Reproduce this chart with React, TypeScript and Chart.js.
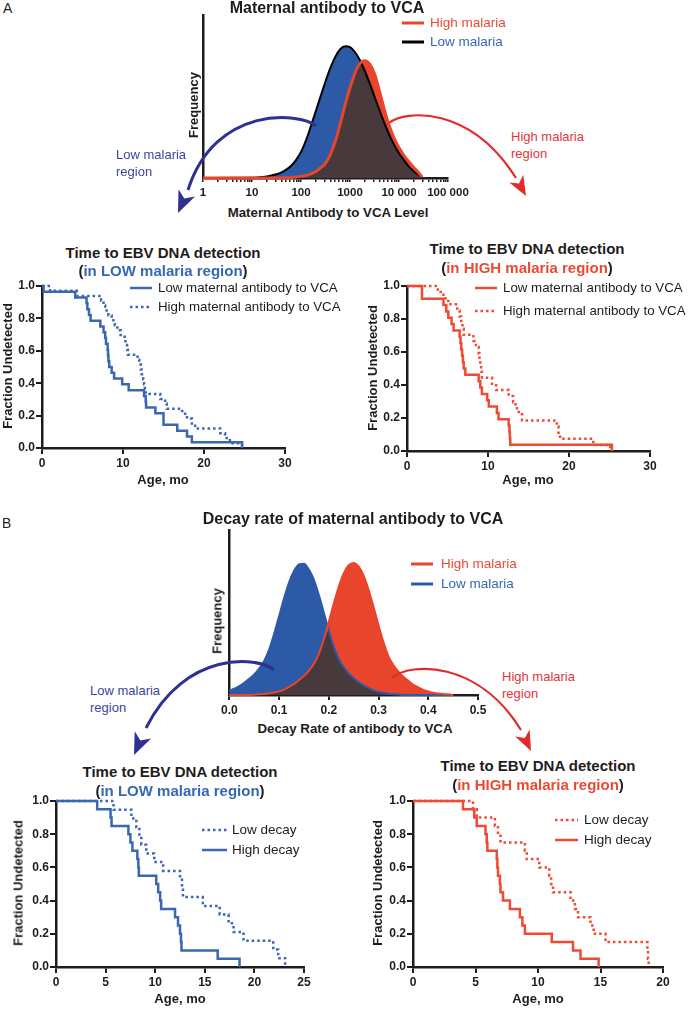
import React, { useEffect, useRef } from 'react';
import { Chart, registerables } from 'chart.js';

Chart.register(...registerables);

const FONT = '"Liberation Sans", Arial, Helvetica, sans-serif';
Chart.defaults.font.family = FONT;

// ---------------- Panel A: maternal antibody distribution ----------------
const antibodyLevels = [1, 10, 13, 16, 20, 25, 32, 40, 50, 63, 79, 100, 126, 158, 200, 251, 316, 398, 501, 631, 794, 1000, 1259, 1585, 1995, 2512, 3162, 3981, 5012, 6310, 7943, 10000, 12589, 15849, 19953, 25119, 29512];
const lowMalariaAntibodyFreq = [0, 0.1, 0.3, 0.6, 1.0, 1.6, 2.3, 3.4, 5.1, 7.5, 11, 16, 23, 31.5, 40.9, 50.1, 59.2, 67.5, 74.3, 79, 80.9, 80.3, 77.3, 72.4, 65.8, 58.2, 50, 41.7, 33.8, 26.6, 20.4, 15.2, 11, 7, 4.2, 1.8, 0.3];
const highMalariaAntibodyFreq = [0, 0, 0, 0, 0, 0, 0.05, 0.1, 0.2, 0.35, 0.6, 1.0, 1.5, 2.5, 4.0, 6.2, 9, 14.5, 22.5, 33, 44.8, 55.4, 64.3, 70.2, 72, 70, 64, 53.5, 42, 32, 24.5, 18.5, 13.8, 10, 6.5, 3.2, 0.5];
const antibodyDecades = [1, 10, 100, 1000, 10000, 100000];
const antibodyDecadeLabels = ['1', '10', '100', '1000', '10 000', '100 000'];
const minorMultipliers = [1, 2, 3, 4, 5, 6, 7, 8, 9];

// ---------------- Panel B: decay rate distribution ----------------
const decayRates = [0, 0.01, 0.02, 0.03, 0.04, 0.05, 0.06, 0.07, 0.08, 0.09, 0.1, 0.11, 0.12, 0.13, 0.14, 0.15, 0.16, 0.17, 0.18, 0.19, 0.2, 0.21, 0.22, 0.23, 0.24, 0.25, 0.26, 0.27, 0.28, 0.29, 0.3, 0.31, 0.32, 0.33, 0.34, 0.35, 0.36, 0.37, 0.38, 0.39, 0.4, 0.41, 0.42, 0.43, 0.44, 0.45];
const lowMalariaDecayFreq = [2.6, 3.8, 5.4, 7.4, 9.8, 12.5, 16, 20.6, 27.5, 37, 47.7, 58.6, 68.2, 75.2, 79.2, 79.6, 76, 69.8, 60.6, 49.9, 39, 29.3, 21.8, 16.8, 13.1, 10.2, 7.8, 5.8, 4.2, 2.8, 1.9, 1.3, 0.8, 0.5, 0.3, 0, 0, 0, 0, 0, 0, 0, 0, 0, 0, 0];
const highMalariaDecayFreq = [0, 0, 0, 0, 0, 0.2, 0.4, 0.6, 1.0, 1.5, 2.3, 3.3, 5.0, 6.6, 9.0, 11.5, 14.8, 19, 24.9, 33.8, 44.3, 55.4, 65.6, 73.7, 78.6, 80, 77.8, 72.4, 63.8, 53.3, 42.2, 31.9, 23.4, 18, 14.1, 11, 8.6, 6.2, 4.6, 3.1, 2.2, 1.4, 0.9, 0.6, 0.4, 0];
const decayTicks = [0, 0.1, 0.2, 0.3, 0.4, 0.5];

// ---------------- Kaplan-Meier curves ----------------
const fractionTicks = [0, 0.2, 0.4, 0.6, 0.8, 1.0];

// A, low malaria region
const aLowLowAbMonths = [0, 0.2, 4.1, 5.5, 5.6, 5.8, 6.0, 7.2, 7.6, 7.8, 7.9, 8.1, 8.15, 8.2, 8.3, 8.6, 8.9, 9.9, 10.7, 12.6, 12.8, 12.85, 14.0, 15.0, 16.7, 17.9, 18.5, 24.7];
const aLowLowAbFraction = [1, 0.964, 0.929, 0.893, 0.857, 0.821, 0.786, 0.75, 0.714, 0.679, 0.643, 0.607, 0.571, 0.536, 0.5, 0.464, 0.429, 0.393, 0.357, 0.321, 0.286, 0.25, 0.214, 0.143, 0.107, 0.071, 0.036, 0];
const aLowHighAbMonths = [0, 1.0, 4.3, 7.3, 7.6, 7.8, 8.2, 8.6, 9.0, 9.3, 9.7, 10.2, 10.3, 10.5, 10.6, 11.8, 12.0, 12.2, 12.3, 12.5, 12.6, 12.7, 12.8, 14.6, 15.2, 15.4, 17.3, 17.9, 18.5, 18.9, 22.0, 22.6, 23.2, 24.7];
const aLowHighAbFraction = [1, 0.970, 0.939, 0.909, 0.879, 0.848, 0.818, 0.788, 0.758, 0.727, 0.697, 0.667, 0.636, 0.606, 0.576, 0.545, 0.515, 0.485, 0.455, 0.424, 0.394, 0.364, 0.333, 0.303, 0.273, 0.242, 0.212, 0.182, 0.152, 0.121, 0.091, 0.061, 0.030, 0];
// A, high malaria region
const aHighLowAbMonths = [0, 1.85, 4.5, 4.85, 5.1, 5.5, 5.75, 6.5, 6.6, 6.7, 6.8, 6.9, 7.0, 7.2, 8.85, 9.05, 9.25, 9.9, 10.1, 11.1, 11.3, 12.55, 12.65, 12.7, 12.75, 25.3];
const aHighLowAbFraction = [1, 0.923, 0.885, 0.846, 0.808, 0.769, 0.731, 0.692, 0.654, 0.615, 0.577, 0.538, 0.5, 0.462, 0.423, 0.385, 0.346, 0.308, 0.269, 0.231, 0.192, 0.154, 0.115, 0.077, 0.038, 0];
const aHighHighAbMonths = [0, 3.8, 4.5, 5.1, 6.2, 6.5, 6.7, 6.85, 7.0, 8.2, 8.5, 8.85, 8.95, 9.05, 9.15, 9.25, 10.5, 11.0, 12.55, 13.1, 13.4, 13.8, 14.2, 18.5, 18.7, 18.9, 23.0, 25.1];
const aHighHighAbFraction = [1, 0.963, 0.926, 0.889, 0.852, 0.815, 0.778, 0.741, 0.704, 0.667, 0.630, 0.593, 0.556, 0.519, 0.481, 0.444, 0.407, 0.370, 0.333, 0.296, 0.259, 0.222, 0.185, 0.148, 0.111, 0.074, 0.037, 0];
// B, low malaria region
const bLowLowDecayMonths = [0, 5.8, 7.6, 8.1, 8.4, 8.6, 9.1, 9.9, 10.8, 12.5, 12.7, 12.8, 14.8, 16.5, 17.4, 17.9, 18.9, 21.9, 22.4, 23.1];
const bLowLowDecayFraction = [1, 0.947, 0.895, 0.842, 0.789, 0.737, 0.684, 0.632, 0.579, 0.526, 0.474, 0.421, 0.368, 0.316, 0.263, 0.211, 0.158, 0.105, 0.053, 0];
const bLowHighDecayMonths = [0, 4.15, 5.5, 5.6, 7.3, 7.5, 7.7, 8.2, 8.3, 8.35, 10.1, 10.3, 10.5, 10.6, 12.0, 12.3, 12.5, 12.6, 12.65, 16.3, 18.5];
const bLowHighDecayFraction = [1, 0.95, 0.9, 0.85, 0.8, 0.75, 0.7, 0.65, 0.6, 0.55, 0.5, 0.45, 0.4, 0.35, 0.3, 0.25, 0.2, 0.15, 0.1, 0.05, 0];
// B, high malaria region
const bHighLowDecayMonths = [0, 4.8, 5.1, 6.55, 6.8, 7.0, 8.95, 9.1, 10.1, 10.9, 11.05, 11.2, 12.6, 12.95, 13.2, 14.2, 14.45, 15.4, 18.75, 18.8, 18.85];
const bHighLowDecayFraction = [1, 0.95, 0.9, 0.85, 0.8, 0.75, 0.7, 0.65, 0.6, 0.55, 0.5, 0.45, 0.4, 0.35, 0.3, 0.25, 0.2, 0.15, 0.1, 0.05, 0];
const bHighHighDecayMonths = [0, 4.0, 4.9, 5.1, 5.8, 5.9, 5.95, 6.7, 6.75, 6.8, 6.95, 7.0, 7.2, 7.75, 8.55, 8.75, 8.95, 11.1, 12.8, 13.4, 14.85];
const bHighHighDecayFraction = [1, 0.95, 0.9, 0.85, 0.8, 0.75, 0.7, 0.65, 0.6, 0.55, 0.5, 0.45, 0.4, 0.35, 0.3, 0.25, 0.2, 0.15, 0.1, 0.05, 0];

// ---------------- colours ----------------
const INK = '#1f1c1d';
const BLUE_FILL = '#2c5aa7';
const RED_FILL = '#e9442c';
const DARK_FILL = '#483a3c';
const KM_BLUE = '#3b67b2';
const KM_RED = '#ee4b35';
const TEXT_BLUE = '#3768b2';
const TEXT_RED = '#ea4a34';
const ARROW_BLUE = '#2e3192';
const ARROW_RED = '#e42b2b';
const REGION_BLUE = '#3d459e';
const REGION_RED = '#e5343c';

const pts = (xs: number[], ys: number[]) => xs.map((x, i) => ({ x, y: ys[i] }));

type Rect = { x0: number; y0: number; x1: number; y1: number };

function ChartBox(props: { rect: Rect; yW: number; xH: number; padTop: number; padRight: number; build: () => any }) {
  const { rect, yW, xH, padTop, padRight, build } = props;
  const ref = useRef<HTMLCanvasElement>(null);
  const left = rect.x0 - yW;
  const top = rect.y0 - padTop;
  const width = rect.x1 - rect.x0 + yW + padRight;
  const height = rect.y1 - rect.y0 + padTop + xH;
  useEffect(() => {
    const cfg = build();
    cfg.options = {
      ...cfg.options,
      responsive: false,
      maintainAspectRatio: false,
      animation: false,
      devicePixelRatio: 1,
      events: [],
      layout: { padding: { top: padTop, right: padRight, left: 0, bottom: 0 } },
      plugins: { legend: { display: false }, tooltip: { enabled: false }, title: { display: false } },
    };
    cfg.options.scales.x.afterFit = (s: any) => { s.height = xH; };
    cfg.options.scales.y.afterFit = (s: any) => { s.width = yW; };
    const chart = new Chart(ref.current as HTMLCanvasElement, cfg);
    return () => chart.destroy();
  }, []);
  return (
    <canvas
      ref={ref}
      width={width}
      height={height}
      style={{ position: 'absolute', left, top, width, height }}
    />
  );
}

const axisBorder = { display: true, color: INK, width: 2.5 };

function kmConfig(series: { t: number[]; f: number[]; color: string; dotted: boolean }[], xMax: number, xStep: number) {
  return {
    type: 'line',
    data: {
      datasets: series.map((s) => ({
        data: pts(s.t, s.f),
        borderColor: s.color,
        borderWidth: 2.5,
        borderDash: s.dotted ? [2.5, 3] : [],
        stepped: 'before',
        pointRadius: 0,
        fill: false,
        clip: false,
      })),
    },
    options: {
      scales: {
        x: {
          type: 'linear',
          min: 0,
          max: xMax,
          ticks: { stepSize: xStep, font: { size: 12, weight: 'bold' }, color: INK, padding: 2, maxRotation: 0 },
          grid: { drawOnChartArea: false, drawTicks: true, tickLength: 6, color: INK, lineWidth: 2 },
          border: axisBorder,
        },
        y: {
          type: 'linear',
          min: 0,
          max: 1,
          afterBuildTicks: (scale: any) => { scale.ticks = fractionTicks.map((v) => ({ value: v })); },
          ticks: { font: { size: 12, weight: 'bold' }, color: INK, padding: 1, callback: (v: any) => Number(v).toFixed(1) },
          grid: { drawOnChartArea: false, drawTicks: true, tickLength: 6, color: INK, lineWidth: 2 },
          border: axisBorder,
        },
      },
    },
  };
}

const lineDs = (data: any[], color: string, width: number, order: number) => ({
  data, borderColor: color, borderWidth: width, fill: false, order, clip: false,
  pointRadius: 0, cubicInterpolationMode: 'monotone',
});
const fillDs = (data: any[], color: string, order: number) => ({
  data, borderColor: 'rgba(0,0,0,0)', borderWidth: 0, backgroundColor: color, fill: 'origin', order,
  pointRadius: 0, cubicInterpolationMode: 'monotone',
});

function antibodyConfig() {
  const overlap = lowMalariaAntibodyFreq.map((v, i) => Math.min(v, highMalariaAntibodyFreq[i]));
  const high = pts(antibodyLevels, highMalariaAntibodyFreq);
  const low = pts(antibodyLevels, lowMalariaAntibodyFreq);
  const tickValues: number[] = [];
  antibodyDecades.forEach((d, i) => {
    if (i === antibodyDecades.length - 1) tickValues.push(d);
    else minorMultipliers.forEach((m) => tickValues.push(d * m));
  });
  return {
    type: 'line',
    data: {
      datasets: [
        lineDs(high, RED_FILL, 3, 0),
        lineDs(low, '#000000', 2, 1),
        fillDs(pts(antibodyLevels, overlap), DARK_FILL, 2),
        fillDs(low, BLUE_FILL, 3),
        fillDs(high, RED_FILL, 4),
      ],
    },
    options: {
      scales: {
        x: {
          type: 'logarithmic',
          min: 1,
          max: 100000,
          afterBuildTicks: (scale: any) => {
            scale.ticks = tickValues.map((v) => ({ value: v, major: antibodyDecades.includes(v) }));
          },
          ticks: {
            autoSkip: false, maxRotation: 0, minRotation: 0, padding: 4, color: INK,
            font: { size: 11.5, weight: 'bold' },
            callback: (v: any) => {
              const i = antibodyDecades.findIndex((d) => Math.abs(d - Number(v)) < 1e-6);
              return i >= 0 ? antibodyDecadeLabels[i] : '';
            },
          },
          grid: { drawOnChartArea: false, drawTicks: true, tickLength: 4, color: INK, lineWidth: 1.5 },
          border: axisBorder,
        },
        y: {
          min: 0, max: 100,
          ticks: { display: false },
          grid: { display: false },
          border: axisBorder,
        },
      },
    },
  };
}

function decayConfig() {
  const overlap = lowMalariaDecayFreq.map((v, i) => Math.min(v, highMalariaDecayFreq[i]));
  const high = pts(decayRates, highMalariaDecayFreq);
  const low = pts(decayRates, lowMalariaDecayFreq);
  return {
    type: 'line',
    data: {
      datasets: [
        lineDs(high, RED_FILL, 2, 0),
        lineDs(low, BLUE_FILL, 2, 1),
        fillDs(pts(decayRates, overlap), DARK_FILL, 2),
        fillDs(high, RED_FILL, 3),
        fillDs(low, BLUE_FILL, 4),
      ],
    },
    options: {
      scales: {
        x: {
          type: 'linear', min: 0, max: 0.5,
          afterBuildTicks: (scale: any) => { scale.ticks = decayTicks.map((v) => ({ value: v })); },
          ticks: { padding: 3, color: INK, font: { size: 12, weight: 'bold' }, maxRotation: 0, callback: (v: any) => Number(v).toFixed(1) },
          grid: { drawOnChartArea: false, drawTicks: true, tickLength: 5, color: INK, lineWidth: 2 },
          border: axisBorder,
        },
        y: {
          min: 0, max: 100,
          ticks: { display: false },
          grid: { display: false },
          border: axisBorder,
        },
      },
    },
  };
}

function Txt(props: { x: number; y: number; size: number; bold?: boolean; color?: string; align?: 'left' | 'center'; rotate?: boolean; children: any }) {
  const { x, y, size, bold, color, align = 'center', rotate, children } = props;
  const tx = align === 'center' ? '-50%' : '0';
  return (
    <div
      style={{
        position: 'absolute', left: x, top: y,
        transform: `translate(${tx}, -50%)${rotate ? ' rotate(-90deg)' : ''}`,
        fontFamily: FONT, fontSize: size, fontWeight: bold ? 700 : 400,
        color: color || INK, lineHeight: 1, whiteSpace: 'nowrap',
      }}
    >
      {children}
    </div>
  );
}

function arrowHead(tx: number, ty: number, fx: number, fy: number, len: number, half: number) {
  const dx = tx - fx, dy = ty - fy;
  const L = Math.hypot(dx, dy);
  const ux = dx / L, uy = dy / L;
  const bx = tx - ux * len, by = ty - uy * len;
  const px = -uy, py = ux;
  const nx = tx - ux * len * 0.72, ny = ty - uy * len * 0.72;
  return `${tx},${ty} ${bx + px * half},${by + py * half} ${nx},${ny} ${bx - px * half},${by - py * half}`;
}

function KMTitle(props: { x: number; y1: number; y2: number; word: string; color: string }) {
  return (
    <>
      <Txt x={props.x} y={props.y1} size={15} bold>Time to EBV DNA detection</Txt>
      <Txt x={props.x} y={props.y2} size={15} bold>
        (<span style={{ color: props.color }}>in {props.word} malaria region</span>)
      </Txt>
    </>
  );
}

export default function App() {
  return (
    <div style={{ position: 'absolute', left: 0, top: 0, width: 688, height: 1009, background: '#fff', overflow: 'hidden' }}>
      {/* ---------- charts ---------- */}
      <ChartBox rect={{ x0: 203, y0: 15, x1: 448, y1: 178 }} yW={10} xH={24} padTop={4} padRight={26} build={antibodyConfig} />
      <ChartBox rect={{ x0: 228, y0: 530, x1: 478, y1: 695 }} yW={10} xH={24} padTop={4} padRight={18} build={decayConfig} />
      <ChartBox rect={{ x0: 42, y0: 286, x1: 285, y1: 448 }} yW={42} xH={24} padTop={10} padRight={20}
        build={() => kmConfig([
          { t: aLowLowAbMonths, f: aLowLowAbFraction, color: KM_BLUE, dotted: false },
          { t: aLowHighAbMonths, f: aLowHighAbFraction, color: KM_BLUE, dotted: true },
        ], 30, 10)} />
      <ChartBox rect={{ x0: 407, y0: 286, x1: 650, y1: 451 }} yW={40} xH={24} padTop={10} padRight={20}
        build={() => kmConfig([
          { t: aHighLowAbMonths, f: aHighLowAbFraction, color: KM_RED, dotted: false },
          { t: aHighHighAbMonths, f: aHighHighAbFraction, color: KM_RED, dotted: true },
        ], 30, 10)} />
      <ChartBox rect={{ x0: 56, y0: 801, x1: 304, y1: 967 }} yW={40} xH={24} padTop={10} padRight={20}
        build={() => kmConfig([
          { t: bLowLowDecayMonths, f: bLowLowDecayFraction, color: KM_BLUE, dotted: true },
          { t: bLowHighDecayMonths, f: bLowHighDecayFraction, color: KM_BLUE, dotted: false },
        ], 25, 5)} />
      <ChartBox rect={{ x0: 413, y0: 801, x1: 663, y1: 967 }} yW={40} xH={24} padTop={10} padRight={20}
        build={() => kmConfig([
          { t: bHighLowDecayMonths, f: bHighLowDecayFraction, color: KM_RED, dotted: true },
          { t: bHighHighDecayMonths, f: bHighHighDecayFraction, color: KM_RED, dotted: false },
        ], 20, 5)} />

      {/* ---------- texts: panel A ---------- */}
      <Txt x={3} y={8} size={14} align="left">A</Txt>
      <Txt x={327} y={8} size={16} bold>Maternal antibody to VCA</Txt>
      <Txt x={193} y={105} size={13} bold rotate>Frequency</Txt>
      <Txt x={328} y={213} size={13.3} bold>Maternal Antibody to VCA Level</Txt>
      <Txt x={430} y={23} size={13.5} align="left" color={TEXT_RED}>High malaria</Txt>
      <Txt x={430} y={42} size={13.5} align="left" color={TEXT_BLUE}>Low malaria</Txt>
      <Txt x={116} y={154} size={13} align="left" color={REGION_BLUE}>Low malaria</Txt>
      <Txt x={116} y={171} size={13} align="left" color={REGION_BLUE}>region</Txt>
      <Txt x={511} y={136} size={13} align="left" color={REGION_RED}>High malaria</Txt>
      <Txt x={511} y={153} size={13} align="left" color={REGION_RED}>region</Txt>

      <KMTitle x={163} y1={252} y2={270} word="LOW" color={TEXT_BLUE} />
      <KMTitle x={527} y1={248} y2={267} word="HIGH" color={TEXT_RED} />
      <Txt x={158} y={288} size={13.3} align="left">Low maternal antibody to VCA</Txt>
      <Txt x={158} y={307} size={13.3} align="left">High maternal antibody to VCA</Txt>
      <Txt x={503} y={288} size={13.3} align="left">Low maternal antibody to VCA</Txt>
      <Txt x={503} y={311} size={13.3} align="left">High maternal antibody to VCA</Txt>
      <Txt x={7} y={366} size={13} bold rotate>Fraction Undetected</Txt>
      <Txt x={372} y={368} size={13} bold rotate>Fraction Undetected</Txt>
      <Txt x={163} y={479} size={13} bold>Age, mo</Txt>
      <Txt x={528} y={479} size={13} bold>Age, mo</Txt>

      {/* ---------- texts: panel B ---------- */}
      <Txt x={2} y={523} size={14} align="left">B</Txt>
      <Txt x={353} y={519} size={16} bold>Decay rate of maternal antibody to VCA</Txt>
      <Txt x={217} y={621} size={13} bold rotate>Frequency</Txt>
      <Txt x={355} y={729} size={13.3} bold>Decay Rate of antibody to VCA</Txt>
      <Txt x={441} y={564} size={13.5} align="left" color={TEXT_RED}>High malaria</Txt>
      <Txt x={441} y={584} size={13.5} align="left" color={TEXT_BLUE}>Low malaria</Txt>
      <Txt x={90} y={690} size={13} align="left" color={REGION_BLUE}>Low malaria</Txt>
      <Txt x={90} y={707} size={13} align="left" color={REGION_BLUE}>region</Txt>
      <Txt x={502} y={676} size={13} align="left" color={REGION_RED}>High malaria</Txt>
      <Txt x={502} y={693} size={13} align="left" color={REGION_RED}>region</Txt>

      <KMTitle x={180} y1={771} y2={790} word="LOW" color={TEXT_BLUE} />
      <KMTitle x={538} y1={765} y2={784} word="HIGH" color={TEXT_RED} />
      <Txt x={232} y={830} size={13.5} align="left">Low decay</Txt>
      <Txt x={232} y={850} size={13.5} align="left">High decay</Txt>
      <Txt x={584} y={820} size={13.5} align="left">Low decay</Txt>
      <Txt x={584} y={840} size={13.5} align="left">High decay</Txt>
      <Txt x={18} y={883} size={13} bold rotate>Fraction Undetected</Txt>
      <Txt x={377} y={883} size={13} bold rotate>Fraction Undetected</Txt>
      <Txt x={180} y={998} size={13} bold>Age, mo</Txt>
      <Txt x={538} y={998} size={13} bold>Age, mo</Txt>

      {/* ---------- arrows and legend keys ---------- */}
      <svg width={688} height={1009} style={{ position: 'absolute', left: 0, top: 0, pointerEvents: 'none' }}>
        {/* A arrows */}
        <path d="M316,126 C300,112 215,105 188,190" fill="none" stroke={ARROW_BLUE} strokeWidth={3} />
        <polygon points={arrowHead(178, 213, 188, 190, 22, 9)} fill={ARROW_BLUE} />
        <path d="M389,123 C405,110 470,105 516,178" fill="none" stroke={ARROW_RED} strokeWidth={2.2} />
        <polygon points={arrowHead(526, 196, 516, 178, 20, 8)} fill={ARROW_RED} />
        {/* B arrows */}
        <path d="M274,670 C258,656 185,650 146,728" fill="none" stroke={ARROW_BLUE} strokeWidth={3} />
        <polygon points={arrowHead(134, 755, 146, 728, 22, 9)} fill={ARROW_BLUE} />
        <path d="M392,678 C410,662 478,660 521,730" fill="none" stroke={ARROW_RED} strokeWidth={2.2} />
        <polygon points={arrowHead(531, 751, 521, 730, 20, 8)} fill={ARROW_RED} />

        {/* distribution legends */}
        <line x1={402} y1={23} x2={424} y2={23} stroke={RED_FILL} strokeWidth={3} />
        <line x1={402} y1={42} x2={424} y2={42} stroke="#000" strokeWidth={3} />
        <line x1={411} y1={564} x2={433} y2={564} stroke={RED_FILL} strokeWidth={3} />
        <line x1={411} y1={584} x2={433} y2={584} stroke={BLUE_FILL} strokeWidth={3} />

        {/* KM legends */}
        <line x1={130} y1={288} x2={152} y2={288} stroke={KM_BLUE} strokeWidth={2.5} />
        <line x1={130} y1={307} x2={152} y2={307} stroke={KM_BLUE} strokeWidth={2.5} strokeDasharray="2.5 3" />
        <line x1={475} y1={288} x2={497} y2={288} stroke={KM_RED} strokeWidth={2.5} />
        <line x1={475} y1={311} x2={497} y2={311} stroke={KM_RED} strokeWidth={2.5} strokeDasharray="2.5 3" />
        <line x1={202} y1={830} x2={227} y2={830} stroke={KM_BLUE} strokeWidth={2.5} strokeDasharray="2.5 3" />
        <line x1={202} y1={850} x2={227} y2={850} stroke={KM_BLUE} strokeWidth={2.5} />
        <line x1={555} y1={820} x2={578} y2={820} stroke={KM_RED} strokeWidth={2.5} strokeDasharray="2.5 3" />
        <line x1={555} y1={840} x2={578} y2={840} stroke={KM_RED} strokeWidth={2.5} />
      </svg>
    </div>
  );
}
